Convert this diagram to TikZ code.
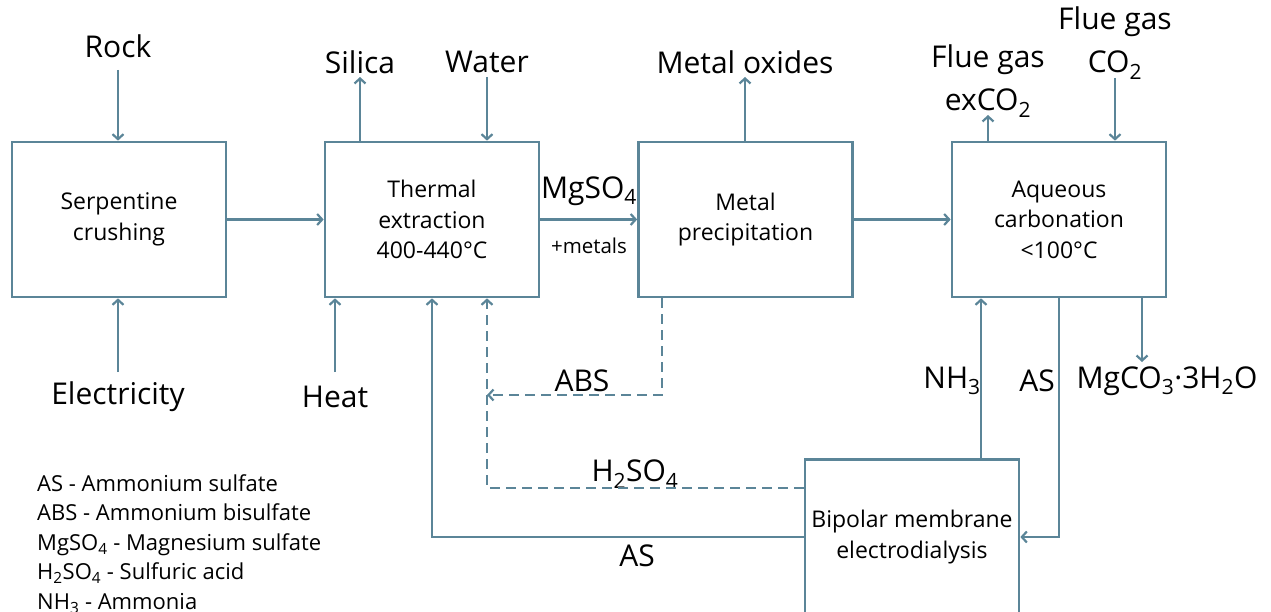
\documentclass[tikz,border=0pt]{standalone}
\usepackage{fontspec}
\setmainfont{Open Sans}
\usetikzlibrary{arrows.meta}
\definecolor{ln}{HTML}{5B8598}
\newcommand{\sbs}[1]{\textsubscript{#1}}
\tikzset{
 box/.style={draw=ln, line width=2.7pt, minimum width=214pt, minimum height=155pt, align=center, font=\fontsize{23}{30.5}\selectfont, inner sep=0pt},
 flow/.style={draw=ln, line width=2.7pt, -{Straight Barb[length=5pt,width=11pt,line width=2.2pt]}},
 dflow/.style={flow, dash pattern=on 10pt off 6pt},
 lab/.style={font=\fontsize{30}{43}\selectfont, inner sep=0pt, align=center},
 small/.style={font=\fontsize{20.5}{24}\selectfont, inner sep=0pt},
 legend/.style={font=\fontsize{22}{29.6}\selectfont, inner sep=0pt, align=left, anchor=north west}
}
\begin{document}
\begin{tikzpicture}[x=1pt,y=-1pt]
\useasboundingbox (0,0) rectangle (1271,612);
\clip (0,0) rectangle (1271,612);
% boxes
\node[box] (crush) at (119,219.5) {Serpentine\\crushing};
\node[box] (therm) at (432,219.5) {Thermal\\extraction\\400-440°C};
\node[box] (metal) at (745.5,219.5) {Metal\\precipitation};
\node[box] (aq) at (1059,219.5) {Aqueous\\carbonation\\<100°C};
\node[box] (bpm) at (912,537) {Bipolar membrane\\electrodialysis};
% labels
\node[lab] (rock) at (118,46) {Rock};
\node[lab] (elec) at (118,397) {Electricity};
\node[lab] (heat) at (335,397) {Heat};
\node[lab] (silica) at (360,62) {Silica};
\node[lab] (water) at (487,62) {Water};
\node[lab] (mox) at (745,62) {Metal oxides};
\node[lab] (exco) at (988,81) {Flue gas\\exCO\sbs{2}};
\node[lab] (fco) at (1115,43) {Flue gas\\CO\sbs{2}};
\node[lab] (nh3) at (952,381) {NH\sbs{3}};
\node[lab] (as1) at (1037,381) {AS};
\node[lab] (mgco) at (1167,381) {MgCO\sbs{3}·3H\sbs{2}O};
\node[lab] (abs) at (582,381) {ABS};
\node[lab] (h2so4) at (635,474) {H\sbs{2}SO\sbs{4}};
\node[lab] (as2) at (637,556) {AS};
\node[lab] (mgso) at (589,191) {MgSO\sbs{4}};
\node[small] (metals) at (589,246) {+metals};
\node[legend] (leg) at (37,474) {AS - Ammonium sulfate\\ABS - Ammonium bisulfate\\MgSO\sbs{4} - Magnesium sulfate\\H\sbs{2}SO\sbs{4} - Sulfuric acid\\NH\sbs{3} - Ammonia};
% coordinates
\coordinate (rockE) at (118,70);
\coordinate (elecE) at (118,372);
\coordinate (heatE) at (335,372);
\coordinate (silE) at (360,77);
\coordinate (watE) at (487,77);
\coordinate (moxE) at (745,77);
\coordinate (exE) at (988,115);
\coordinate (fcE) at (1115,78);
\coordinate (mgE) at (1142,362);
\coordinate (nhx) at (981,0);
\coordinate (absC) at (662,395);
\coordinate (absT) at (487,395);
\coordinate (hC) at (487,488);
\coordinate (asC) at (432,537);
\coordinate (asR) at (1059,537);
% connectors
\draw[flow] (rockE) -- (rockE |- crush.north);
\draw[flow] (elecE) -- (elecE |- crush.south);
\draw[flow] (heatE) -- (heatE |- therm.south);
\draw[flow] (silE |- therm.north) -- (silE);
\draw[flow] (watE) -- (watE |- therm.north);
\draw[flow] (crush) -- (therm);
\draw[flow] (therm) -- (metal);
\draw[flow] (metal) -- (aq);
\draw[flow] (moxE |- metal.north) -- (moxE);
\draw[flow] (exE |- aq.north) -- (exE);
\draw[flow] (fcE) -- (fcE |- aq.north);
\draw[flow] (mgE |- aq.south) -- (mgE);
\draw[flow] (bpm.north -| nhx) -- (aq.south -| nhx);
\draw[flow] (aq.south -| asR) -- (asR) -- (asR -| bpm.east);
\draw[dflow] (metal.south -| absC) -- (absC) -- (absT);
\draw[dflow] (hC -| bpm.west) -- (hC) -- (hC |- therm.south);
\draw[flow] (asC -| bpm.west) -- (asC) -- (asC |- therm.south);
\end{tikzpicture}
\end{document}
